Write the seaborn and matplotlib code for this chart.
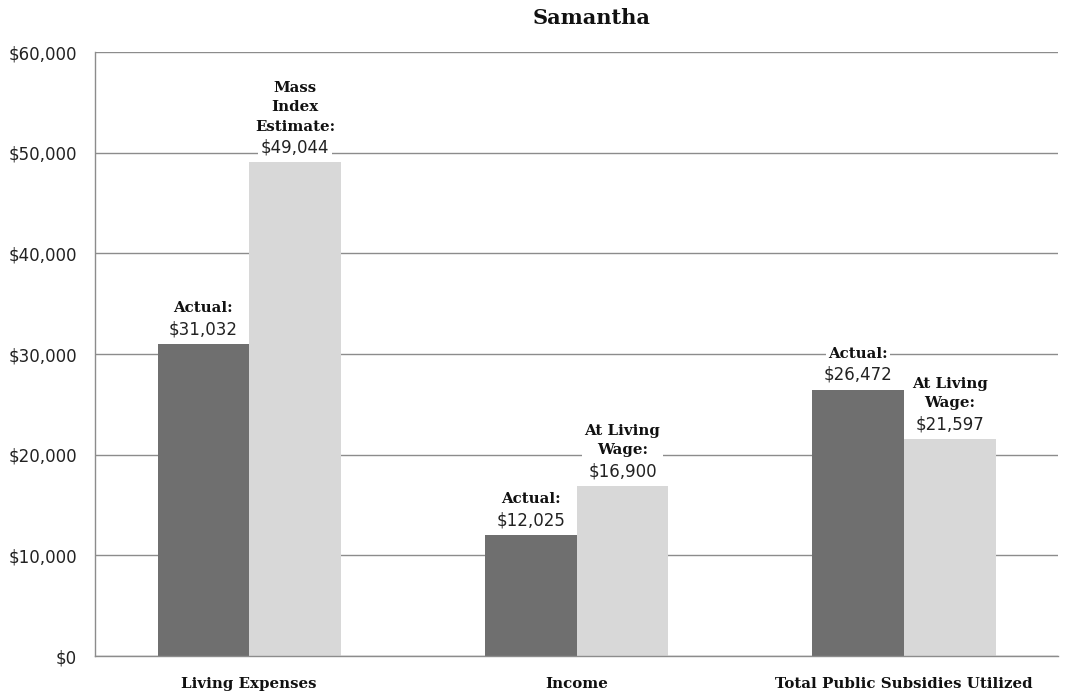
import matplotlib
matplotlib.use("Agg")
import matplotlib.pyplot as plt
import seaborn as sns
import pandas as pd
from matplotlib.ticker import FuncFormatter

# ---- data ----
categories = ["Living Expenses", "Income", "Total Public Subsidies Utilized"]
actual_values = [31032, 12025, 26472]
alt_values = [49044, 16900, 21597]
series_names = ["Actual", "Alternative"]
actual_labels = ["Actual:", "Actual:", "Actual:"]
alt_labels = ["Mass\nIndex\nEstimate:", "At Living\nWage:", "At Living\nWage:"]
y_ticks = [0, 10000, 20000, 30000, 40000, 50000, 60000]
title = "Samantha"

df = pd.DataFrame({
    "category": categories * 2,
    "value": actual_values + alt_values,
    "series": [series_names[0]] * 3 + [series_names[1]] * 3,
})

sns.set_theme(style="white")
plt.rcParams["font.family"] = ["DejaVu Sans"]

dark = "#6f6f6f"
light = "#d8d8d8"
grid_c = "#8c8c8c"

fig = plt.figure(figsize=(10.67, 6.94), dpi=100)
ax = fig.add_axes([95 / 1067, 1 - 656 / 694, (1058 - 95) / 1067, (656 - 52) / 694])

sns.barplot(data=df, x="category", y="value", hue="series", order=categories,
            hue_order=series_names, palette=[dark, light], width=0.56, gap=0,
            saturation=1, legend=False, ax=ax, errorbar=None, linewidth=0)

ax.set_xlim(-0.471, 2.47)
ax.set_ylim(0, 60000)
ax.set_yticks(y_ticks)
ax.yaxis.set_major_formatter(FuncFormatter(lambda v, p: f"${v:,.0f}"))
ax.set_axisbelow(True)
ax.yaxis.grid(True, color=grid_c, linewidth=1.0)
ax.xaxis.grid(False)
for s in ["top", "right"]:
    ax.spines[s].set_visible(False)
for s in ["left", "bottom"]:
    ax.spines[s].set_color(grid_c)
    ax.spines[s].set_linewidth(1.0)
ax.set_xlabel("")
ax.set_ylabel("")
ax.tick_params(axis="y", length=0, pad=13, labelsize=12, labelcolor="#222222")
ax.tick_params(axis="x", length=0, pad=15)
for t in ax.get_xticklabels():
    t.set_fontfamily("DejaVu Serif")
    t.set_fontweight("bold")
    t.set_fontsize(10.8)
    t.set_color("#111111")

fig.text(592 / 1067, 1 - 18 / 694, title, ha="center", va="center",
         fontfamily="DejaVu Serif", fontweight="bold", fontsize=15, color="#111111")

box = dict(boxstyle="square,pad=0.15", fc="white", ec="none")
for cont, labels in zip(ax.containers, [actual_labels, alt_labels]):
    for patch, lab in zip(cont.patches, labels):
        cx = patch.get_x() + patch.get_width() / 2
        h = patch.get_height()
        ax.annotate(f"${h:,.0f}", xy=(cx, h), xytext=(0, 4), textcoords="offset points",
                    ha="center", va="bottom", fontsize=12, color="#222222", bbox=box, zorder=5)
        ax.annotate(lab, xy=(cx, h), xytext=(0, 20.5), textcoords="offset points",
                    ha="center", va="bottom", fontsize=10.8, fontfamily="DejaVu Serif",
                    fontweight="bold", color="#111111", linespacing=1.5,
                    multialignment="center", bbox=box, zorder=5)

fig.savefig("out.png", dpi=100, facecolor="white")
